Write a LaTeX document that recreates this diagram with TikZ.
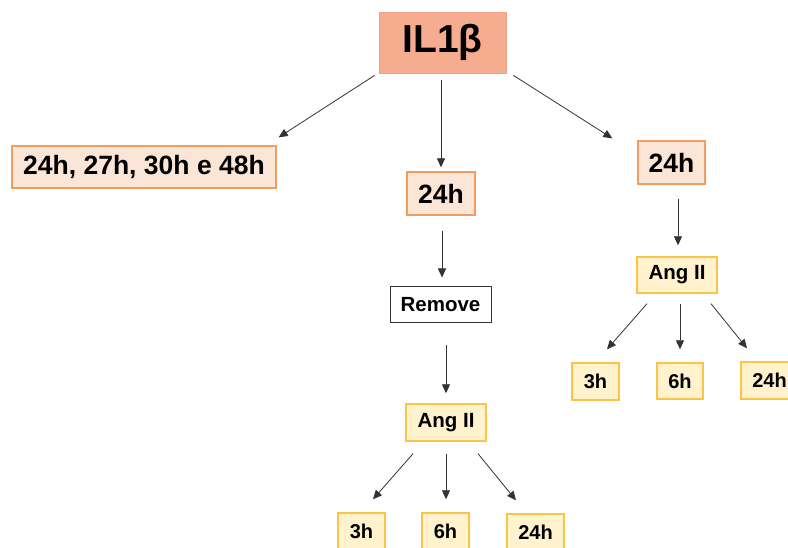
\documentclass[tikz,border=0pt]{standalone}
\usepackage{fontspec}
\setmainfont{Liberation Sans}
\usetikzlibrary{arrows.meta,calc}
\definecolor{salmonfill}{HTML}{F6AD8F}
\definecolor{salmonline}{HTML}{EFA286}
\definecolor{peachfill}{HTML}{FBE5D6}
\definecolor{peachline}{HTML}{F29D60}
\definecolor{yelfill}{HTML}{FFF2CC}
\definecolor{yelline}{HTML}{FAC446}
\definecolor{arrcol}{HTML}{333333}
\tikzset{
  boxbase/.style={rectangle, inner sep=0pt, align=center, font=\bfseries},
  topbox/.style={boxbase, fill=salmonfill, draw=salmonline, line width=0.8pt},
  peachbox/.style={boxbase, fill=peachfill, draw=peachline, line width=1.3pt},
  yelbox/.style={boxbase, fill=yelfill, draw=yelline, line width=1.4pt},
  whitebox/.style={boxbase, fill=white, draw=arrcol, line width=1pt},
  arr/.style={draw=arrcol, line width=0.8pt, -{Triangle[length=9pt,width=8pt]}},
  bigtxt/.style={font=\bfseries\fontsize{26.5}{28}\selectfont},
  midtxt/.style={font=\bfseries\fontsize{20.5}{22}\selectfont},
  smalltxt/.style={font=\bfseries\fontsize{20}{22}\selectfont},
}
\begin{document}
\begin{tikzpicture}[x=1pt,y=-1pt]
\useasboundingbox (0,0) rectangle (788,548);
\clip (0,0) rectangle (788,548);
\fill[white] (0,0) rectangle (788,548);

\node[topbox, minimum width=127pt, minimum height=61pt, font=\bfseries\fontsize{39}{41}\selectfont] (il) at (442.5,42.5) {IL1β};

\node[peachbox, bigtxt, minimum width=264pt, minimum height=42pt] (lt) at (144,167) {24h, 27h, 30h e 48h};
\node[peachbox, bigtxt, minimum width=68pt, minimum height=43pt] (mid) at (441,193.5) {24h};
\node[peachbox, bigtxt, minimum width=67pt, minimum height=43pt] (rt) at (671.5,162.5) {24h};

\node[whitebox, midtxt, minimum width=101pt, minimum height=36pt] (rem) at (440.5,305) {Remove};

\node[yelbox, midtxt, minimum width=80pt, minimum height=37pt] (angm) at (446,422.5) {Ang II};
\node[yelbox, midtxt, minimum width=80pt, minimum height=36pt] (angr) at (677,275) {Ang II};

\node[yelbox, smalltxt, minimum width=47pt, minimum height=37pt] (r3) at (595.5,381.5) {3h};
\node[yelbox, smalltxt, minimum width=46pt, minimum height=36pt] (r6) at (680,381) {6h};
\node[yelbox, smalltxt, minimum width=57pt, minimum height=37pt] (r24) at (769.5,380.5) {24h};

\node[yelbox, smalltxt, minimum width=47pt, minimum height=37pt] (m3) at (361.5,531.5) {3h};
\node[yelbox, smalltxt, minimum width=47pt, minimum height=37pt] (m6) at (445.5,531.5) {6h};
\node[yelbox, smalltxt, minimum width=57pt, minimum height=37pt] (m24) at (535.5,532.5) {24h};

% arrows from IL1b
\draw[arr] ($(il.south west)+(-4,2)$) -- ($(lt.north east)+(2,-8)$);
\draw[arr] ($(il.south)+(-1.5,7)$) -- ($(mid.north)+(0,-4)$);
\draw[arr] ($(il.south east)+(7,2)$) -- ($(rt.north west)+(-25,-2)$);
% middle chain
\draw[arr] ($(mid.south)+(1,15)$) -- ($(rem.north)+(1.5,-9)$);
\draw[arr] ($(rem.south)+(5.5,22)$) -- ($(angm.north)+(0,-10)$);
\draw[arr] ($(angm.south)+(-33,12)$) -- ($(m3.north)+(11.5,-13)$);
\draw[arr] ($(angm.south)+(0,12)$) -- ($(m6.north)+(0.5,-13)$);
\draw[arr] ($(angm.south)+(32,12)$) -- ($(m24.north)+(-19.5,-13)$);
% right chain
\draw[arr] ($(rt.south)+(6.5,14)$) -- ($(angr.north)+(1,-11)$);
\draw[arr] ($(angr.south)+(-30,10)$) -- ($(r3.north)+(11.5,-13)$);
\draw[arr] ($(angr.south)+(3,10)$) -- ($(r6.north)+(0,-13)$);
\draw[arr] ($(angr.south)+(34,10)$) -- ($(r24.north)+(-22.5,-13)$);
\end{tikzpicture}
\end{document}
